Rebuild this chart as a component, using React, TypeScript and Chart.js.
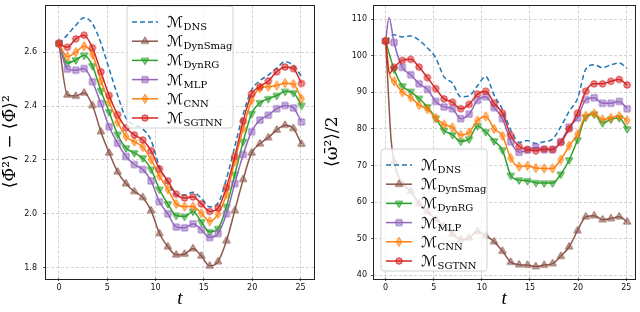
import React, { useEffect, useRef } from 'react';
import { Chart, registerables } from 'chart.js';
Chart.register(...registerables);

// time grid (marker positions)
const T = [0, 0.87, 1.74, 2.6, 3.47, 4.34, 5.2, 6.07, 6.94, 7.8, 8.67, 9.54, 10.4, 11.27, 12.14, 13.0, 13.87, 14.74, 15.6, 16.47, 17.34, 18.2, 19.07, 19.94, 20.8, 21.67, 22.54, 23.4, 24.27, 25.1];
const X_TICKS = [0, 5, 10, 15, 20, 25];
const LEFT_Y_TICKS = [1.8, 2.0, 2.2, 2.4, 2.6];
const RIGHT_Y_TICKS = [40, 50, 60, 70, 80, 90, 100, 110];
const NAMES = ['DNS', 'DynSmag', 'DynRG', 'MLP', 'CNN', 'SGTNN'];
const COLORS = ['#1f77b4', '#8c564b', '#2ca02c', '#9467bd', '#ff7f0e', '#d62728'];
const MARKERS = ['none', 'triangle', 'triangleDown', 'rect', 'thinDiamond', 'circle'];
const LEFT_Y_TITLE = '⟨Φ\u0304²⟩ − ⟨Φ\u0304⟩²';
const RIGHT_Y_TITLE = '⟨ω\u0304²⟩/2';
const X_TITLE = 't';

// left panel: variance
const L_DNS = [2.632, 2.664, 2.699, 2.728, 2.705, 2.634, 2.537, 2.44, 2.355, 2.33, 2.315, 2.272, 2.175, 2.118, 2.07, 2.07, 2.08, 2.058, 2.026, 2.04, 2.13, 2.25, 2.37, 2.46, 2.494, 2.515, 2.54, 2.565, 2.55, 2.51];
const L_DYNSMAG = [2.632, 2.441, 2.437, 2.449, 2.402, 2.305, 2.226, 2.156, 2.112, 2.083, 2.061, 2.012, 1.927, 1.878, 1.848, 1.851, 1.871, 1.844, 1.807, 1.823, 1.9, 2.012, 2.128, 2.226, 2.26, 2.283, 2.311, 2.329, 2.317, 2.259];
const L_DYNRG = [2.632, 2.559, 2.571, 2.588, 2.549, 2.457, 2.378, 2.295, 2.244, 2.226, 2.207, 2.165, 2.091, 2.037, 1.994, 1.99, 2.009, 1.97, 1.933, 1.945, 2.027, 2.146, 2.268, 2.372, 2.412, 2.427, 2.439, 2.454, 2.449, 2.402];
const L_MLP = [2.632, 2.537, 2.533, 2.539, 2.49, 2.409, 2.323, 2.262, 2.213, 2.183, 2.165, 2.122, 2.045, 2.0, 1.951, 1.948, 1.963, 1.941, 1.912, 1.927, 2.0, 2.112, 2.22, 2.305, 2.348, 2.366, 2.39, 2.402, 2.393, 2.341];
const L_CNN = [2.632, 2.583, 2.6, 2.622, 2.591, 2.494, 2.415, 2.341, 2.287, 2.268, 2.248, 2.201, 2.14, 2.091, 2.037, 2.027, 2.027, 2.002, 1.973, 2.0, 2.073, 2.195, 2.317, 2.421, 2.466, 2.472, 2.476, 2.485, 2.482, 2.427];
const L_SGTNN = [2.632, 2.618, 2.649, 2.663, 2.616, 2.527, 2.439, 2.368, 2.319, 2.293, 2.274, 2.234, 2.167, 2.122, 2.073, 2.059, 2.063, 2.037, 2.009, 2.022, 2.098, 2.213, 2.344, 2.445, 2.472, 2.493, 2.527, 2.545, 2.539, 2.484];

// right panel: enstrophy
const R_DNS = [104.0, 105.7, 105.1, 105.4, 104.2, 102.1, 99.4, 94.2, 92.5, 88.8, 89.0, 91.8, 94.3, 89.2, 85.3, 79.7, 76.3, 76.8, 76.0, 76.5, 77.2, 80.6, 84.8, 88.3, 96.3, 97.5, 96.7, 97.5, 98.0, 96.5];
const R_DYNSMAG = [104.0, 71.0, 65.0, 63.0, 59.6, 57.4, 55.3, 53.5, 51.3, 49.8, 50.2, 52.0, 50.8, 49.2, 46.6, 43.6, 42.9, 42.8, 42.4, 42.8, 43.2, 45.2, 47.8, 52.2, 56.0, 56.3, 55.2, 55.5, 56.0, 54.6];
const R_DYNSMAG_EXTRA = [[0.3, 89.0], [0.55, 77.5]];
const R_DYNRG = [104.0, 96.3, 91.7, 90.2, 88.3, 86.0, 82.9, 79.6, 78.4, 76.6, 77.2, 80.8, 79.2, 76.7, 74.2, 67.3, 66.0, 65.8, 65.3, 65.2, 65.2, 67.6, 71.5, 77.0, 83.2, 84.0, 81.6, 82.6, 83.0, 80.0];
const R_MLP = [104.0, 103.6, 96.8, 94.8, 92.3, 90.8, 87.5, 86.0, 85.5, 82.8, 84.0, 87.8, 88.8, 85.8, 82.8, 76.5, 73.6, 74.2, 75.0, 74.3, 74.3, 76.5, 80.5, 83.0, 88.0, 88.5, 87.0, 87.0, 87.5, 85.5];
const R_MLP_EXTRA = [[0.35, 110.4]];
const R_CNN = [104.0, 93.0, 90.0, 88.6, 86.5, 85.4, 83.0, 81.2, 80.4, 78.3, 79.0, 82.3, 83.4, 80.0, 78.1, 72.0, 69.7, 69.9, 69.3, 69.2, 69.2, 71.6, 75.4, 78.5, 83.6, 84.2, 82.6, 83.0, 83.5, 82.3];
const R_CNN_EXTRA = [[0.4, 95.0]];
const R_SGTNN = [104.0, 96.8, 98.7, 99.0, 96.9, 94.0, 91.0, 88.2, 87.3, 85.5, 86.7, 89.5, 90.3, 87.0, 84.3, 78.2, 75.2, 74.4, 74.0, 74.5, 74.4, 76.3, 80.0, 84.3, 90.3, 92.3, 92.3, 93.0, 93.5, 92.0];
const R_SGTNN_EXTRA = [[0.4, 95.2]];

function rgba(hex: string, a: number) {
  const n = parseInt(hex.slice(1), 16);
  return `rgba(${(n >> 16) & 255},${(n >> 8) & 255},${n & 255},${a})`;
}

function markerPath(g: CanvasRenderingContext2D, kind: string, x: number, y: number) {
  g.beginPath();
  if (kind === 'circle') {
    g.arc(x, y, 3.2, 0, Math.PI * 2);
  } else if (kind === 'triangle') {
    const r = 4.2;
    g.moveTo(x, y - r); g.lineTo(x + r * 0.866, y + r / 2); g.lineTo(x - r * 0.866, y + r / 2); g.closePath();
  } else if (kind === 'triangleDown') {
    const r = 4.2;
    g.moveTo(x, y + r); g.lineTo(x + r * 0.866, y - r / 2); g.lineTo(x - r * 0.866, y - r / 2); g.closePath();
  } else if (kind === 'rect') {
    g.rect(x - 3, y - 3, 6, 6);
  } else if (kind === 'thinDiamond') {
    g.moveTo(x, y - 4.5); g.lineTo(x + 2.8, y); g.lineTo(x, y + 4.5); g.lineTo(x - 2.8, y); g.closePath();
  }
}

function makeMarker(kind: string, color: string) {
  const c = document.createElement('canvas');
  c.width = 12; c.height = 12;
  const g = c.getContext('2d')!;
  markerPath(g, kind, 6, 6);
  g.fillStyle = rgba(color, 0.5);
  g.fill();
  g.lineWidth = 1;
  g.strokeStyle = rgba(color, 0.9);
  g.stroke();
  return c;
}

function build(values: number[], extra: number[][] = []) {
  const pts = T.map((t, i) => ({ x: t, y: values[i], m: true }))
    .concat(extra.map(([x, y]) => ({ x, y, m: false })));
  pts.sort((a, b) => a.x - b.x);
  return pts;
}

const legendPlugin = {
  id: 'mLegend',
  afterDatasetsDraw(chart: any, _a: any, opts: any) {
    const ctx: CanvasRenderingContext2D = chart.ctx;
    const { left, top, width, height } = opts.box;
    ctx.save();
    ctx.beginPath();
    const r = 3;
    ctx.moveTo(left + r, top);
    ctx.arcTo(left + width, top, left + width, top + height, r);
    ctx.arcTo(left + width, top + height, left, top + height, r);
    ctx.arcTo(left, top + height, left, top, r);
    ctx.arcTo(left, top, left + width, top, r);
    ctx.closePath();
    ctx.fillStyle = 'rgba(255,255,255,0.8)';
    ctx.fill();
    ctx.strokeStyle = '#d0d0d0';
    ctx.lineWidth = 1;
    ctx.stroke();
    chart.data.datasets.forEach((ds: any, i: number) => {
      const y = top + 16 + i * opts.rowGap;
      ctx.beginPath();
      ctx.setLineDash(ds.borderDash || []);
      ctx.strokeStyle = ds.borderColor;
      ctx.lineWidth = 1.5;
      ctx.moveTo(left + 5, y);
      ctx.lineTo(left + 31, y);
      ctx.stroke();
      ctx.setLineDash([]);
      if (ds.markerCanvas) ctx.drawImage(ds.markerCanvas, left + 18 - 6, y - 6);
      ctx.fillStyle = '#000';
      ctx.textBaseline = 'alphabetic';
      ctx.textAlign = 'left';
      ctx.font = '15px "DejaVu Sans"';
      ctx.fillText('ℳ', left + 40, y + 5);
      const w = ctx.measureText('ℳ').width;
      ctx.font = '10px "DejaVu Serif"';
      ctx.fillText(NAMES[i], left + 40 + w + 0.5, y + 8);
    });
    ctx.restore();
  },
};

const framePlugin = {
  id: 'frame',
  afterDraw(chart: any) {
    const { ctx, chartArea: a } = chart;
    ctx.save();
    ctx.strokeStyle = '#222';
    ctx.lineWidth = 1;
    ctx.strokeRect(Math.round(a.left) - 0.5, Math.round(a.top) - 0.5, Math.round(a.right - a.left) + 1, Math.round(a.bottom - a.top) + 1);
    ctx.restore();
  },
};

function makeConfig(p: any): any {
  const datasets = p.series.map((s: any, i: number) => {
    const mc = MARKERS[i] === 'none' ? null : makeMarker(MARKERS[i], COLORS[i]);
    return {
      label: 'ℳ' + NAMES[i],
      data: build(s.values, s.extra),
      borderColor: COLORS[i],
      backgroundColor: COLORS[i],
      borderWidth: 1.5,
      borderDash: i === 0 ? [5, 3] : [],
      cubicInterpolationMode: 'monotone',
      fill: false,
      pointStyle: mc || 'circle',
      pointRadius: (c: any) => (mc && c.raw && c.raw.m ? 4 : 0),
      order: 5 - i,
      markerCanvas: mc,
    };
  });
  const tickFont = { family: 'DejaVu Sans', size: 8 };
  return {
    type: 'line',
    data: { datasets },
    plugins: [legendPlugin, framePlugin],
    options: {
      responsive: false,
      maintainAspectRatio: false,
      devicePixelRatio: 1,
      animation: false,
      events: [],
      layout: { padding: { left: 0, top: 2, right: p.padRight, bottom: 0 } },
      plugins: {
        legend: { display: false },
        tooltip: { enabled: false },
        mLegend: { box: p.legendBox, rowGap: 19.2 },
      },
      scales: {
        x: {
          type: 'linear',
          min: p.xMin,
          max: p.xMax,
          afterBuildTicks: (s: any) => { s.ticks = X_TICKS.map((v) => ({ value: v })); },
          afterFit: (s: any) => { s.height = 34; s.paddingLeft = 0; s.paddingRight = 0; s.paddingTop = 0; s.paddingBottom = 0; },
          ticks: { font: tickFont, color: '#111', padding: 2, maxRotation: 0, autoSkip: false, callback: (v: any) => String(v) },
          grid: { color: '#c8c8c8', lineWidth: 0.8, tickColor: '#333', tickLength: 3, tickWidth: 0.8 },
          border: { display: false, dash: [3, 2] },
          title: { display: true, text: X_TITLE, color: '#000', font: { family: 'Liberation Serif', size: 19, style: 'italic' }, padding: { top: 0, bottom: 2 } },
        },
        y: {
          type: 'linear',
          min: p.yMin,
          max: p.yMax,
          afterBuildTicks: (s: any) => { s.ticks = p.yTicks.map((v: number) => ({ value: v })); },
          afterFit: (s: any) => { s.width = p.yWidth; s.paddingLeft = 0; s.paddingRight = 0; s.paddingTop = 0; s.paddingBottom = 0; },
          ticks: { font: tickFont, color: '#111', padding: p.yTickPad, autoSkip: false, callback: p.yFmt },
          grid: { color: '#c8c8c8', lineWidth: 0.8, tickColor: '#333', tickLength: 3, tickWidth: 0.8 },
          border: { display: false, dash: [3, 2] },
          title: { display: true, text: p.yTitle, color: '#000', font: { family: 'DejaVu Serif', size: 17 }, padding: { top: p.yTitlePad, bottom: 0 } },
        },
      },
    },
  };
}

const LEFT = {
  series: [
    { values: L_DNS }, { values: L_DYNSMAG }, { values: L_DYNRG },
    { values: L_MLP }, { values: L_CNN }, { values: L_SGTNN },
  ],
  xMin: -1.34, xMax: 26.4, yMin: 1.762, yMax: 2.773,
  yTicks: LEFT_Y_TICKS, yFmt: (v: any) => Number(v).toFixed(1),
  yTitle: LEFT_Y_TITLE, yTitlePad: 0, yWidth: 46, yTickPad: 6, padRight: 6,
  legendBox: { left: 127, top: 6, width: 106, height: 122 },
};

const RIGHT = {
  series: [
    { values: R_DNS }, { values: R_DYNSMAG, extra: R_DYNSMAG_EXTRA }, { values: R_DYNRG },
    { values: R_MLP, extra: R_MLP_EXTRA }, { values: R_CNN, extra: R_CNN_EXTRA }, { values: R_SGTNN, extra: R_SGTNN_EXTRA },
  ],
  xMin: -1.21, xMax: 25.86, yMin: 39.27, yMax: 113.7,
  yTicks: RIGHT_Y_TICKS, yFmt: (v: any) => String(v),
  yTitle: RIGHT_Y_TITLE, yTitlePad: 2, yWidth: 54, yTickPad: 4, padRight: 5,
  legendBox: { left: 61, top: 149, width: 106, height: 122 },
};

export default function App() {
  const r1 = useRef<HTMLCanvasElement>(null);
  const r2 = useRef<HTMLCanvasElement>(null);
  useEffect(() => {
    const c1 = new Chart(r1.current!, makeConfig(LEFT));
    const c2 = new Chart(r2.current!, makeConfig(RIGHT));
    return () => { c1.destroy(); c2.destroy(); };
  }, []);
  return (
    <div style={{ position: 'absolute', left: 0, top: 0, width: 640, height: 312, background: '#fff' }}>
      <canvas ref={r1} width={320} height={312} style={{ position: 'absolute', left: 0, top: 0, width: 320, height: 312 }} />
      <canvas ref={r2} width={320} height={312} style={{ position: 'absolute', left: 320, top: 0, width: 320, height: 312 }} />
    </div>
  );
}
